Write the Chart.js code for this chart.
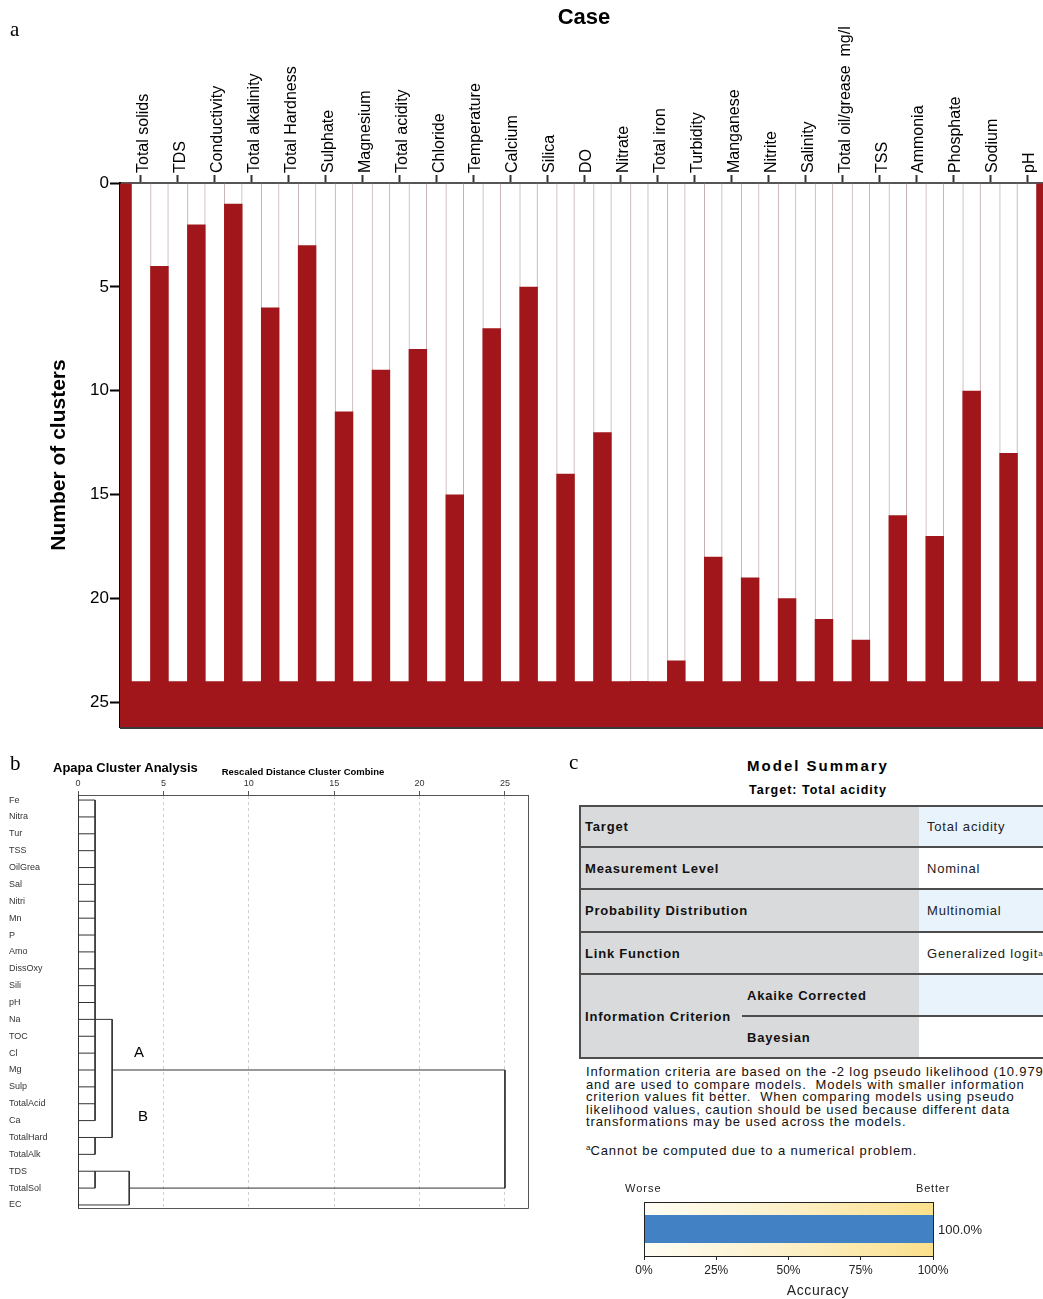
<!DOCTYPE html>
<html>
<head>
<meta charset="utf-8">
<title>Cluster analysis of water quality parameters</title>
<script src="https://cdn.jsdelivr.net/npm/chart.js@4.4.1/dist/chart.umd.min.js"></script>
<style>
  html, body { margin: 0; padding: 0; background: #fff; }
  #page { position: relative; width: 1043px; height: 1299px; overflow: hidden;
          font-family: "Liberation Sans", Arial, sans-serif; color: #000; }
  .box { position: absolute; }
  .letter { position: absolute; font-family: "Liberation Serif", "Times New Roman", serif;
            font-size: 21px; line-height: 21px; }
  .t { position: absolute; white-space: pre; }
  .cell { position: absolute; display: flex; align-items: center; white-space: pre; }
  .lab { font-weight: bold; font-size: 13px; letter-spacing: 0.8px; color: #111; }
  .val { font-size: 13px; letter-spacing: 0.8px; color: #222; }
  .hl { position: absolute; background: #4d4d4d; height: 2px; }
  sup { font-size: 8px; vertical-align: 5px; letter-spacing: 0; }
</style>
</head>
<body>
<div id="page">
  <!-- panel a : icicle plot -->
  <div class="box" style="left:0;top:0;width:1060px;height:735px"><canvas id="icicle" width="1060" height="735"></canvas></div>
  <div class="letter" style="left:10px;top:19px">a</div>

  <!-- panel b : dendrogram -->
  <div class="box" style="left:0;top:755px;width:540px;height:460px"><canvas id="dendro" width="540" height="460"></canvas></div>
  <div class="letter" style="left:10px;top:753px">b</div>
  <div class="t" style="left:53px;top:760px;font-size:13px;line-height:16px;font-weight:bold">Apapa Cluster Analysis</div>
  <div class="t" style="left:134px;top:1044px;font-size:15px;line-height:16px">A</div>
  <div class="t" style="left:138px;top:1108px;font-size:15px;line-height:16px">B</div>

  <!-- panel c : model summary -->
  <div class="letter" style="left:569px;top:752px">c</div>
  <div class="t" style="left:618px;width:400px;text-align:center;top:757px;font-size:15px;line-height:18px;font-weight:bold;letter-spacing:2px">Model Summary</div>
  <div class="t" style="left:618px;width:400px;text-align:center;top:782px;font-size:12.5px;line-height:16px;font-weight:bold;letter-spacing:1px">Target: Total acidity</div>

  <div class="box" style="left:579px;top:805px;width:480px;height:254px">
    <div class="box" style="left:0;top:0;width:340px;height:254px;background:#d9dadc"></div>
    <div class="box" style="left:340px;top:0;width:140px;height:42px;background:#e9f3fc"></div>
    <div class="box" style="left:340px;top:84px;width:140px;height:43px;background:#e9f3fc"></div>
    <div class="box" style="left:340px;top:169px;width:140px;height:42px;background:#e9f3fc"></div>

    <div class="hl" style="left:0;top:0;width:480px"></div>
    <div class="hl" style="left:0;top:41px;width:480px"></div>
    <div class="hl" style="left:0;top:83px;width:480px"></div>
    <div class="hl" style="left:0;top:126px;width:480px"></div>
    <div class="hl" style="left:0;top:168px;width:480px"></div>
    <div class="hl" style="left:163px;top:210px;width:317px"></div>
    <div class="hl" style="left:0;top:252px;width:480px"></div>
    <div class="box" style="left:0;top:0;width:2px;height:254px;background:#4d4d4d"></div>

    <div class="cell lab" style="left:6px;top:0;height:42px">Target</div>
    <div class="cell val" style="left:348px;top:0;height:42px">Total acidity</div>
    <div class="cell lab" style="left:6px;top:42px;height:42px">Measurement Level</div>
    <div class="cell val" style="left:348px;top:42px;height:42px">Nominal</div>
    <div class="cell lab" style="left:6px;top:84px;height:43px">Probability Distribution</div>
    <div class="cell val" style="left:348px;top:84px;height:43px">Multinomial</div>
    <div class="cell lab" style="left:6px;top:127px;height:42px">Link Function</div>
    <div class="cell val" style="left:348px;top:127px;height:42px">Generalized logit<sup>a</sup></div>
    <div class="cell lab" style="left:6px;top:169px;height:84px">Information Criterion</div>
    <div class="cell lab" style="left:168px;top:169px;height:42px">Akaike Corrected</div>
    <div class="cell lab" style="left:168px;top:211px;height:42px">Bayesian</div>
  </div>

  <div class="t" style="left:586px;top:1066px;font-size:13px;line-height:12.5px;letter-spacing:0.87px;color:#111">Information criteria are based on the -2 log pseudo likelihood (10.979)
and are used to compare models.  Models with smaller information
criterion values fit better.  When comparing models using pseudo
likelihood values, caution should be used because different data
transformations may be used across the models.</div>
  <div class="t" style="left:586px;top:1141px;font-size:13px;line-height:14px;letter-spacing:0.9px;color:#111"><sup>a</sup>Cannot be computed due to a numerical problem.</div>

  <div class="box" style="left:600px;top:1175px;width:443px;height:124px"><canvas id="accuracy" width="443" height="124"></canvas></div>
  <div class="t" style="left:625px;top:1181px;font-size:11px;line-height:14px;letter-spacing:1px;color:#222">Worse</div>
  <div class="t" style="left:916px;top:1181px;font-size:11px;line-height:14px;letter-spacing:0.8px;color:#222">Better</div>
  <div class="t" style="left:718px;width:200px;text-align:center;top:1282px;font-size:14px;line-height:17px;letter-spacing:0.6px;color:#222">Accuracy</div>
</div>

<script>
Chart.defaults.font.family = '"Liberation Sans", Arial, sans-serif';
Chart.defaults.animation = false;
Chart.defaults.plugins.legend.display = false;
Chart.defaults.plugins.tooltip.enabled = false;

/* ---------- panel a : vertical icicle ---------- */
const caseNames = ['Total solids', 'TDS', 'Conductivity', 'Total alkalinity', 'Total Hardness',
  'Sulphate', 'Magnesium', 'Total acidity', 'Chloride', 'Temperature', 'Calcium', 'Silica', 'DO',
  'Nitrate', 'Total iron', 'Turbidity', 'Manganese', 'Nitrite', 'Salinity', 'Total oil/grease  mg/l',
  'TSS', 'Ammonia', 'Phosphate', 'Sodium', 'pH'];
// number of clusters at which each pair of neighbouring cases is joined (outer edges first/last)
const joinLevels = [0, 4, 2, 1, 6, 3, 11, 9, 8, 15, 7, 5, 14, 12, 24, 23, 18, 19, 20, 21, 22, 16, 17, 10, 13, 0];
const clusterTicks = [0, 5, 10, 15, 20, 25];
const separateLevel = 24;   // every case in its own cluster
const icicleBottom = 26.2;

const RED = '#a1161b';

const icicleBase = {
  id: 'icicleBase',
  afterDraw(chart) {
    const {ctx, chartArea: a} = chart;
    ctx.save();
    ctx.strokeStyle = '#3a3a3a';
    ctx.lineWidth = 2;
    ctx.beginPath();
    ctx.moveTo(a.left, a.bottom + 1);
    ctx.lineTo(a.right, a.bottom + 1);
    ctx.stroke();
    ctx.restore();
  }
};

new Chart(document.getElementById('icicle'), {
  type: 'bar',
  data: {
    datasets: [
      { label: 'joins', data: joinLevels.map((v, i) => ({x: i + 0.5, y: [v, icicleBottom]})),
        backgroundColor: RED, grouped: false, barPercentage: 1, categoryPercentage: 0.5 },
      // band where all cases are still separate, spanning the full case range
      { type: 'line', label: 'base', order: 5,
        data: [{x: 0.5, y: separateLevel}, {x: joinLevels.length - 0.5, y: separateLevel}],
        borderWidth: 0, pointRadius: 0, fill: {value: icicleBottom}, backgroundColor: RED, borderColor: RED },
      { label: 'outline', data: joinLevels.map((v, i) => ({x: i + 0.5, y: [0, separateLevel]})),
        backgroundColor: 'rgba(0,0,0,0)', borderColor: '#c4b1b1', order: 6,
        borderWidth: {left: 1, right: 1, top: 0, bottom: 0}, borderSkipped: false,
        grouped: false, barPercentage: 1, categoryPercentage: 0.5 }
    ]
  },
  options: {
    responsive: false,
    layout: {padding: {left: 0, right: 12, top: 0, bottom: 8}},
    plugins: {filler: {propagate: false}},
    scales: {
      x: {
        type: 'linear', position: 'top', min: 0.432, max: 25.568, offset: false,
        afterBuildTicks: s => { s.ticks = caseNames.map((n, i) => ({value: i + 1})); },
        ticks: {autoSkip: false, minRotation: 90, maxRotation: 90, padding: 2, labelOffset: 22,
                font: {size: 16}, color: '#000', callback: v => caseNames[v - 1]},
        grid: {drawOnChartArea: false, offset: false, tickLength: 8, tickWidth: 2, tickColor: '#333'},
        border: {color: '#555', width: 2},
        title: {display: true, text: 'Case', color: '#000', font: {size: 22, weight: 'bold'},
                padding: {top: 5, bottom: 0}},
        afterFit: s => { s.height = 183; s.paddingLeft = 0; s.paddingRight = 0; }
      },
      y: {
        type: 'linear', reverse: true, min: 0, max: icicleBottom,
        afterBuildTicks: s => { s.ticks = clusterTicks.map(v => ({value: v})); },
        ticks: {font: {size: 17}, color: '#000', padding: 1},
        grid: {drawOnChartArea: false, tickLength: 10, tickWidth: 2, tickColor: '#000'},
        border: {color: '#000', width: 2},
        title: {display: true, text: 'Number of clusters', color: '#000',
                font: {size: 21, weight: 'bold'}, padding: {top: 47, bottom: 0}},
        afterFit: s => { s.width = 120; s.paddingTop = 0; s.paddingBottom = 0; }
      }
    }
  },
  plugins: [icicleBase]
});

/* ---------- panel b : dendrogram ---------- */
const leafNames = ['Fe', 'Nitra', 'Tur', 'TSS', 'OilGrea', 'Sal', 'Nitri', 'Mn', 'P', 'Amo',
  'DissOxy', 'Sili', 'pH', 'Na', 'TOC', 'Cl', 'Mg', 'Sulp', 'TotalAcid', 'Ca', 'TotalHard',
  'TotalAlk', 'TDS', 'TotalSol', 'EC'];
// merge steps: members are leaf ids (0-24) or earlier merges (25 + step)
const mergeMembers = [
  [0, 1, 2, 3, 4, 5, 6, 7, 8, 9, 10, 11, 12, 13, 14, 15, 16, 17, 18, 19],
  [20, 21],
  [22, 23],
  [25, 26],
  [27, 24],
  [28, 29]
];
const mergeDistance = [1, 1, 1, 2, 3, 25];
const mergeRow = [13, 20, 22, 16, 23, null];
const distanceTicks = [0, 5, 10, 15, 20, 25];

const nodeRow = id => id < leafNames.length ? id : mergeRow[id - leafNames.length];
const nodeHeight = id => id < leafNames.length ? 0 : mergeDistance[id - leafNames.length];

const segments = [];
mergeMembers.forEach((members, m) => {
  const d = mergeDistance[m];
  const rows = members.map(nodeRow);
  segments.push([{x: d, y: Math.min(...rows)}, {x: d, y: Math.max(...rows)}]);
  members.forEach(id => segments.push([{x: nodeHeight(id), y: nodeRow(id)}, {x: d, y: nodeRow(id)}]));
});

const dendroFrame = {
  id: 'dendroFrame',
  afterDraw(chart) {
    const {ctx, chartArea: a} = chart;
    ctx.save();
    ctx.strokeStyle = '#555';
    ctx.lineWidth = 1;
    ctx.beginPath();
    ctx.moveTo(Math.round(a.right) + 0.5, a.top);
    ctx.lineTo(Math.round(a.right) + 0.5, Math.round(a.bottom) + 0.5);
    ctx.lineTo(a.left, Math.round(a.bottom) + 0.5);
    ctx.stroke();
    ctx.restore();
  }
};

new Chart(document.getElementById('dendro'), {
  type: 'scatter',
  data: {
    datasets: segments.map(s => ({data: s, showLine: true, borderColor: '#333', borderWidth: 1,
                                   pointRadius: 0, tension: 0}))
  },
  options: {
    responsive: false,
    layout: {padding: {left: 9, right: 12, top: 0, bottom: 7}},
    scales: {
      x: {
        type: 'linear', position: 'top', min: 0, max: 26.35,
        afterBuildTicks: s => { s.ticks = distanceTicks.map(v => ({value: v})); },
        ticks: {maxRotation: 0, font: {size: 9}, color: '#333', padding: 2},
        grid: {color: c => (c.tick && c.tick.value === 0) ? 'rgba(0,0,0,0)' : '#cfcfcf',
               borderDash: [3, 3], tickBorderDash: [], tickColor: '#555', tickLength: 4, lineWidth: 1},
        border: {color: '#555', width: 1, dash: [3, 3]},
        title: {display: true, text: 'Rescaled Distance Cluster Combine', color: '#000',
                font: {size: 9.5, weight: 'bold'}, padding: {top: 12, bottom: 0}},
        afterFit: s => { s.height = 40; s.paddingLeft = 0; s.paddingRight = 0; }
      },
      y: {
        type: 'linear', reverse: true, min: -0.3, max: 24.18,
        afterBuildTicks: s => { s.ticks = leafNames.map((n, i) => ({value: i})); },
        ticks: {autoSkip: false, crossAlign: 'far', padding: 0, font: {size: 9}, color: '#333',
                callback: v => leafNames[v]},
        grid: {drawOnChartArea: false, drawTicks: false},
        border: {color: '#333', width: 1},
        afterFit: s => { s.width = 69; s.paddingTop = 0; s.paddingBottom = 0; }
      }
    }
  },
  plugins: [dendroFrame]
});

/* ---------- panel c : accuracy bar ---------- */
const accuracyLabels = ['Accuracy'];
const accuracyValues = [100.0];
const accuracyTicks = [0, 25, 50, 75, 100];

const accuracyDecor = {
  id: 'accuracyDecor',
  beforeDatasetsDraw(chart) {
    const {ctx, chartArea: a} = chart;
    const g = ctx.createLinearGradient(a.left, 0, a.right, 0);
    g.addColorStop(0, '#fffdf5');
    g.addColorStop(0.5, '#fcf0c8');
    g.addColorStop(1, '#fbe08b');
    ctx.save();
    ctx.fillStyle = g;
    ctx.fillRect(a.left, a.top, a.right - a.left, a.bottom - a.top);
    ctx.restore();
  },
  afterDatasetsDraw(chart) {
    const {ctx, chartArea: a} = chart;
    ctx.save();
    ctx.strokeStyle = '#222';
    ctx.lineWidth = 1;
    ctx.strokeRect(Math.round(a.left) + 0.5, Math.round(a.top) + 0.5,
                   Math.round(a.right - a.left), Math.round(a.bottom - a.top));
    const bar = chart.getDatasetMeta(0).data[0];
    ctx.fillStyle = '#222';
    ctx.font = '13px "Liberation Sans", Arial, sans-serif';
    ctx.textBaseline = 'middle';
    ctx.textAlign = 'left';
    ctx.fillText(accuracyValues[0].toFixed(1) + '%', bar.x + 5, bar.y + 1);
    ctx.restore();
  }
};

new Chart(document.getElementById('accuracy'), {
  type: 'bar',
  data: {
    labels: accuracyLabels,
    datasets: [{data: accuracyValues, backgroundColor: '#4281c3', barPercentage: 0.52, categoryPercentage: 1}]
  },
  options: {
    indexAxis: 'y',
    responsive: false,
    layout: {padding: {left: 44, right: 110, top: 27, bottom: 0}},
    scales: {
      x: {
        type: 'linear', min: 0, max: 100,
        afterBuildTicks: s => { s.ticks = accuracyTicks.map(v => ({value: v})); },
        ticks: {maxRotation: 0, font: {size: 12}, color: '#222', padding: 3, callback: v => v + '%'},
        grid: {drawOnChartArea: false, tickLength: 4, tickColor: '#222'},
        border: {color: '#222', width: 1},
        afterFit: s => { s.height = 43; s.paddingLeft = 0; s.paddingRight = 0; }
      },
      y: {display: false}
    }
  },
  plugins: [accuracyDecor]
});
</script>
</body>
</html>
